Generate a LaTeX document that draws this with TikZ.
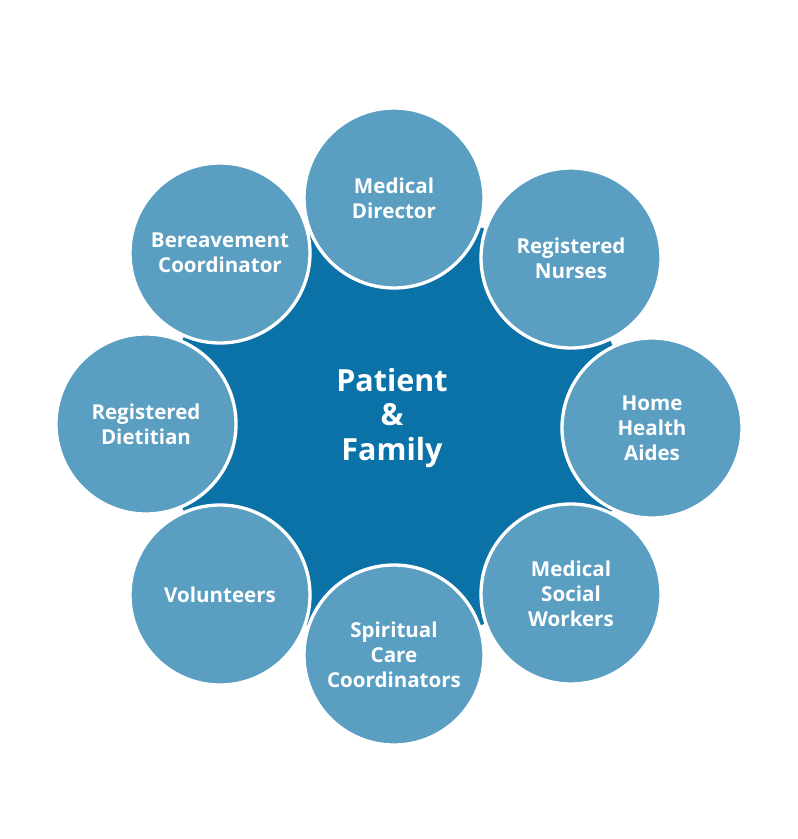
\documentclass[tikz,border=0pt]{standalone}
\usepackage{fontspec}
\setmainfont{Open Sans}
\definecolor{dark}{HTML}{0B72A8}
\definecolor{light}{HTML}{5A9EC2}
\begin{document}
\begin{tikzpicture}[x=0.0265cm,y=-0.0265cm,
  member/.style={circle,fill=light,draw=white,line width=2.5pt,minimum size=180*0.0265cm,
    text=white,align=center,font=\fontsize{15.5}{19}\selectfont\bfseries,inner sep=0pt},
  centertext/.style={text=white,align=center,font=\fontsize{23}{26}\selectfont\bfseries}]
\useasboundingbox (0,0) rectangle (797,839);
\coordinate (c1) at (394,198);
\coordinate (c2) at (571,258);
\coordinate (c3) at (652,428);
\coordinate (c4) at (571,594);
\coordinate (c5) at (394,655);
\coordinate (c6) at (220,595);
\coordinate (c7) at (146,424);
\coordinate (c8) at (220,253);
\fill[dark] (c1)--(c2)--(c3)--(c4)--(c5)--(c6)--(c7)--(c8)--cycle;
\node[member] (n1) at (c1) {Medical\\Director};
\node[member] (n2) at (c2) {Registered\\Nurses};
\node[member] (n3) at (c3) {Home\\Health\\Aides};
\node[member] (n4) at (c4) {Medical\\Social\\Workers};
\node[member] (n5) at (c5) {Spiritual\\Care\\Coordinators};
\node[member] (n6) at (c6) {Volunteers};
\node[member] (n7) at (c7) {Registered\\Dietitian};
\node[member] (n8) at (c8) {Bereavement\\Coordinator};
\node[centertext] (ctr) at (392,418) {Patient\\\&\\Family};
\end{tikzpicture}
\end{document}
